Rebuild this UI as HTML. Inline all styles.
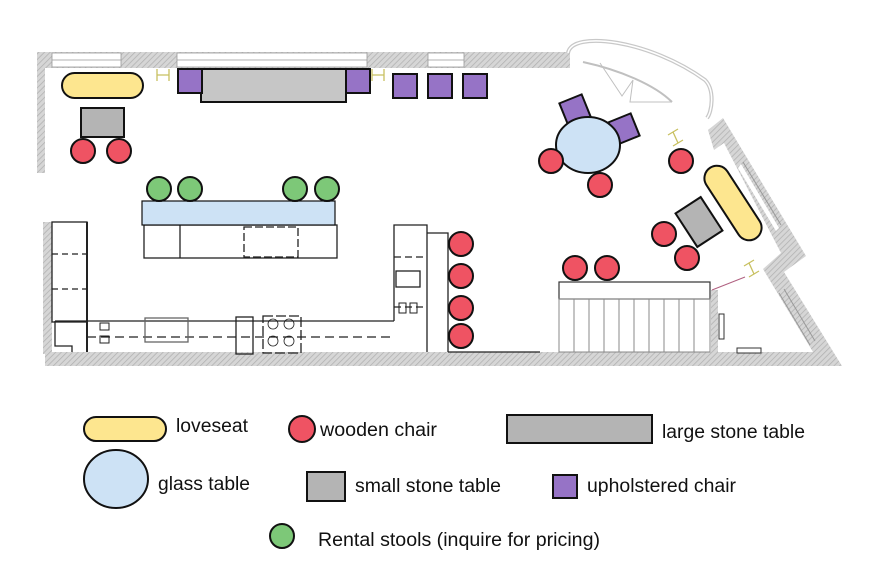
<!DOCTYPE html>
<html><head><style>html,body{margin:0;padding:0;background:#fff}svg{display:block}</style></head><body>
<svg width="876" height="572" viewBox="0 0 876 572" xmlns="http://www.w3.org/2000/svg" font-family="Liberation Sans, sans-serif">
<defs>
<pattern id="h" width="4" height="4" patternUnits="userSpaceOnUse" patternTransform="rotate(45)">
<rect width="4" height="4" fill="#d6d6d6"/><line x1="0" y1="0" x2="0" y2="4" stroke="#b0b0b0" stroke-width="1.5"/></pattern>
</defs>
<!-- walls -->
<rect x="37" y="52" width="8" height="121" fill="url(#h)"/>
<rect x="37" y="52" width="533" height="16" fill="url(#h)"/>
<g fill="#fff" stroke="#999" stroke-width="0.8">
<rect x="52" y="53" width="69" height="14"/><rect x="177" y="53" width="190" height="14"/><rect x="428" y="53" width="36" height="14"/>
</g>
<line x1="52" y1="60" x2="121" y2="60" stroke="#999" stroke-width="0.8"/>
<line x1="177" y1="60" x2="367" y2="60" stroke="#999" stroke-width="0.8"/>
<line x1="428" y1="60" x2="464" y2="60" stroke="#999" stroke-width="0.8"/>
<rect x="43" y="222" width="9" height="132" fill="url(#h)"/>
<polygon points="45,352 828,352 835,366 45,366" fill="url(#h)"/>
<!-- right wall -->
<polygon points="708,130 723,118 806,256 784,272 842,366 826,366 813,352 763,269 781,253 724,143 714,150" fill="url(#h)"/>
<g stroke="#999" stroke-width="1" fill="none">
<path d="M739,167 L777,230 M743,162 L781,225"/>
<path d="M779,293 L810,345 M784,289 L815,341"/>
</g>
<g fill="#fff"><polygon points="741,164 779,228 776,231 738,168" /></g>
<rect x="711" y="290" width="7" height="62" fill="url(#h)"/>
<!-- arc -->
<path d="M568,53 C572,30 650,40 705,80 C715,90 712,112 707,118" fill="none" stroke="#c8c8c8" stroke-width="4"/>
<path d="M568,53 C572,30 650,40 705,80 C715,90 712,112 707,118" fill="none" stroke="#fff" stroke-width="1.5"/>
<path d="M583,62 C620,70 655,85 672,102" fill="none" stroke="#c0c0c0" stroke-width="2"/>
<path d="M600,63 L622,96 L633,80 L630,102 L672,102" fill="none" stroke="#c0c0c0" stroke-width="1"/>
<!-- H symbols -->
<g stroke="#c8c060" stroke-width="1.3" fill="none">
<path d="M157,69 v12 M169,69 v12 M157,75 h12"/><path d="M372,69 v12 M384,69 v12 M372,75 h12"/>
<path d="M668,135 l10,-6 M673,146 l10,-6 M673,132 l5,11"/>
<path d="M744,266 l10,-6 M749,277 l10,-6 M749,263 l5,11"/>
</g>
<line x1="712" y1="290" x2="745" y2="277" stroke="#b06080" stroke-width="1"/>
<!-- kitchen -->
<g fill="none" stroke="#222" stroke-width="1.3">
<rect x="52" y="222" width="35" height="100"/>
<line x1="87" y1="222" x2="87" y2="352" stroke-width="2"/>
<line x1="52" y1="254" x2="87" y2="254" stroke-dasharray="6,4"/>
<line x1="52" y1="289" x2="87" y2="289" stroke-dasharray="6,4"/>
<path d="M55,321 H87 M55,321 V346 H72 V352"/>
<line x1="87" y1="321" x2="394" y2="321"/>
<line x1="87" y1="337" x2="394" y2="337" stroke-dasharray="9,5"/>
<rect x="145" y="318" width="43" height="24" stroke="#666"/>
<rect x="236" y="317" width="17" height="37"/>
<rect x="263" y="316" width="38" height="37" stroke-dasharray="10,3"/>
<circle cx="273" cy="324" r="5" stroke-width="0.8"/><circle cx="289" cy="324" r="5" stroke-width="0.8"/>
<circle cx="273" cy="341" r="5" stroke-width="0.8"/><circle cx="289" cy="341" r="5" stroke-width="0.8"/>
<rect x="100" y="323" width="9" height="7" stroke-width="1"/><rect x="100" y="336" width="9" height="7" stroke-width="1"/>
<rect x="144" y="225" width="193" height="33"/>
<line x1="180" y1="225" x2="180" y2="258"/>
<rect x="244" y="227" width="54" height="30" stroke-dasharray="8,3"/>
<path d="M394,321 V225 H427 V352 M427,233 H448 V352"/>
<line x1="394" y1="257" x2="427" y2="257" stroke-dasharray="7,4"/>
<line x1="394" y1="307" x2="427" y2="307" stroke-dasharray="7,4"/>
<rect x="396" y="271" width="24" height="16"/>
<rect x="399" y="303" width="7" height="10" stroke-width="1"/><rect x="410" y="303" width="7" height="10" stroke-width="1"/>
<line x1="448" y1="352" x2="540" y2="352"/>
</g>
<!-- stairs -->
<g fill="#fff" stroke="#333" stroke-width="1.2">
<rect x="559" y="282" width="151" height="17"/>
</g>
<g stroke="#888" stroke-width="1">
<rect x="559" y="299" width="151" height="53" fill="none"/>
<path d="M574,299v53M589,299v53M604,299v53M619,299v53M634,299v53M649,299v53M664,299v53M679,299v53M694,299v53"/>
<rect x="719" y="314" width="5" height="25" fill="#fff" stroke="#333"/>
<rect x="737" y="348" width="24" height="5" fill="#fff" stroke="#333"/>
</g>
<!-- furniture -->
<g stroke="#111" stroke-width="2">
<rect x="62" y="73" width="81" height="25" rx="12.5" fill="#fde68f"/>
<rect x="81" y="108" width="43" height="29" fill="#b4b4b4"/>
<rect x="201" y="69" width="145" height="33" fill="#c6c6c6"/>
<g fill="#9673c6">
<rect x="178" y="69" width="24" height="24"/><rect x="346" y="69" width="24" height="24"/>
<rect x="393" y="74" width="24" height="24"/><rect x="428" y="74" width="24" height="24"/><rect x="463" y="74" width="24" height="24"/>
<rect x="-12" y="-12" width="24" height="24" transform="translate(575,110) rotate(-22)"/>
<rect x="-12" y="-12" width="24" height="24" transform="translate(624,129) rotate(-22)"/>
</g>
<ellipse cx="588" cy="145" rx="32" ry="28" fill="#cde2f5"/>
<rect x="142" y="201" width="193" height="24" fill="#cde2f5" stroke-width="1.2"/>
<rect x="-12.5" y="-42" width="25" height="84" rx="12.5" fill="#fde68f" transform="translate(733,203) rotate(-33)"/>
<rect x="-15" y="-20" width="30" height="40" fill="#b4b4b4" transform="translate(699,222) rotate(-33)"/>
<g fill="#ef5363">
<circle cx="83" cy="151" r="12"/><circle cx="119" cy="151" r="12"/>
<circle cx="461" cy="244" r="12"/><circle cx="461" cy="276" r="12"/><circle cx="461" cy="308" r="12"/><circle cx="461" cy="336" r="12"/>
<circle cx="551" cy="161" r="12"/><circle cx="600" cy="185" r="12"/><circle cx="681" cy="161" r="12"/>
<circle cx="664" cy="234" r="12"/><circle cx="687" cy="258" r="12"/>
<circle cx="575" cy="268" r="12"/><circle cx="607" cy="268" r="12"/>
</g>
<g fill="#7dc878">
<circle cx="159" cy="189" r="12"/><circle cx="190" cy="189" r="12"/><circle cx="295" cy="189" r="12"/><circle cx="327" cy="189" r="12"/>
</g>
</g>
<!-- legend -->
<g stroke="#111" stroke-width="2">
<rect x="84" y="417" width="82" height="24" rx="12" fill="#fde68f"/>
<circle cx="302" cy="429" r="13" fill="#ef5363"/>
<rect x="507" y="415" width="145" height="28" fill="#b4b4b4"/>
<ellipse cx="116" cy="479" rx="32" ry="29" fill="#cde2f5"/>
<rect x="307" y="472" width="38" height="29" fill="#b4b4b4"/>
<rect x="553" y="475" width="24" height="23" fill="#9673c6"/>
<circle cx="282" cy="536" r="12" fill="#7dc878"/>
</g>
<g font-size="19" fill="#111" lengthAdjust="spacingAndGlyphs">
<text x="176" y="432" textLength="72" lengthAdjust="spacingAndGlyphs">loveseat</text>
<text x="320" y="436" textLength="117" lengthAdjust="spacingAndGlyphs">wooden chair</text>
<text x="662" y="438" textLength="143" lengthAdjust="spacingAndGlyphs">large stone table</text>
<text x="158" y="490" textLength="92" lengthAdjust="spacingAndGlyphs">glass table</text>
<text x="355" y="492" textLength="146" lengthAdjust="spacingAndGlyphs">small stone table</text>
<text x="587" y="492" textLength="149" lengthAdjust="spacingAndGlyphs">upholstered chair</text>
<text x="318" y="546" textLength="282" lengthAdjust="spacingAndGlyphs">Rental stools (inquire for pricing)</text>
</g>
</svg>
</body></html>
